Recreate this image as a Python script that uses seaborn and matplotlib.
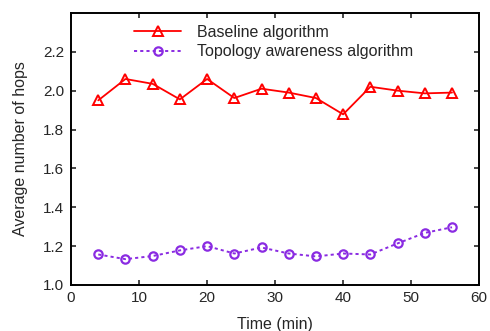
import matplotlib
matplotlib.use("Agg")
import matplotlib.pyplot as plt
import seaborn as sns
import pandas as pd

time_min = [4, 8, 12, 16, 20, 24, 28, 32, 36, 40, 44, 48, 52, 56]
baseline = [1.95, 2.06, 2.035, 1.955, 2.06, 1.962, 2.01, 1.99, 1.962, 1.878, 2.02, 2.0, 1.986, 1.99]
topology = [1.157, 1.133, 1.149, 1.178, 1.2, 1.162, 1.193, 1.162, 1.147, 1.162, 1.157, 1.214, 1.268, 1.297]
xticks = [0, 10, 20, 30, 40, 50, 60]
yticks = [1.0, 1.2, 1.4, 1.6, 1.8, 2.0, 2.2]

sns.set_style("ticks")
plt.rcParams['font.family'] = ['Liberation Sans', 'DejaVu Sans']

fig = plt.figure(figsize=(4.9, 3.31), dpi=100)
ax = fig.add_axes([0.145, 0.139, 0.833, 0.822])

df = pd.DataFrame({"t": time_min, "b": baseline, "p": topology})
sns.lineplot(data=df, x="t", y="b", ax=ax, color="#ff0000", lw=1.3,
             marker="^", markersize=7, markerfacecolor="none",
             markeredgecolor="#ff0000", markeredgewidth=1.4,
             label="Baseline algorithm")
sns.lineplot(data=df, x="t", y="p", ax=ax, color="#8a2be2", lw=1.4,
             linestyle=(0, (1.6, 1.6)), marker="o", markersize=6,
             markerfacecolor="none", markeredgecolor="#8a2be2",
             markeredgewidth=1.6, label="Topology awareness algorithm")

ax.set_xlim(0, 60)
ax.set_ylim(1.0, 2.4)
ax.set_xticks(xticks)
ax.set_yticks(yticks)
ax.set_yticklabels([f"{v:.1f}" for v in yticks])
ax.tick_params(direction="in", top=True, right=True, labelsize=11, length=3.5, width=1.2)
ax.tick_params(axis="x", pad=4)
ax.tick_params(axis="y", pad=5)
for s in ax.spines.values():
    s.set_linewidth(1.4)
    s.set_color("black")
ax.set_xlabel("Time (min)", fontsize=11.5, labelpad=9)
ax.set_ylabel("Average number of hops", fontsize=11.5, labelpad=11)

leg = ax.legend(loc="upper left", bbox_to_anchor=(0.12, 1.01), frameon=False,
                fontsize=11.5, handlelength=2.9, handletextpad=1.0, labelspacing=0.3)

fig.savefig("out.png", dpi=100)
